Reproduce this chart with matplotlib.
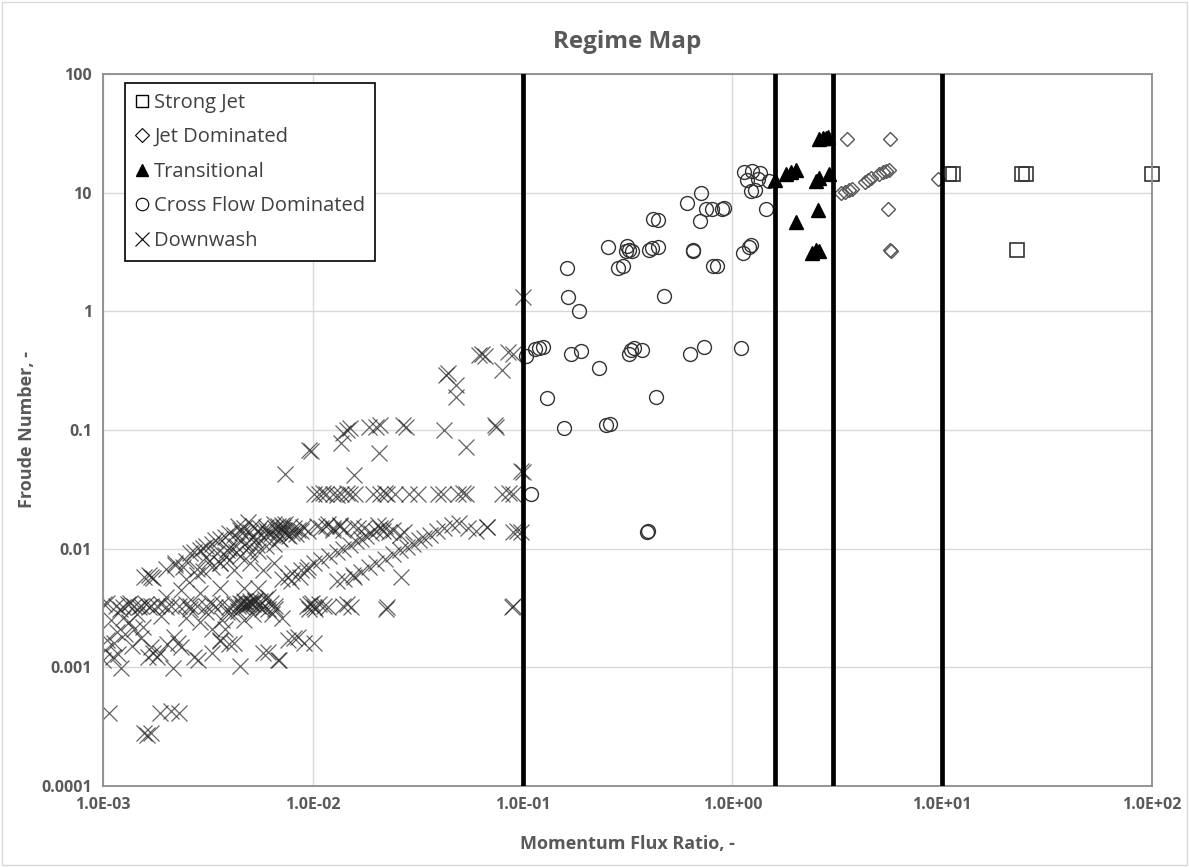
import numpy as np
import matplotlib
matplotlib.use("Agg")
import matplotlib.pyplot as plt
from matplotlib.lines import Line2D
from matplotlib.patches import Rectangle
from matplotlib.ticker import FixedLocator, FixedFormatter, NullLocator

plt.rcParams["font.family"] = ["Open Sans", "DejaVu Sans"]

# ---- data ----
strong_j = [10.8, 11.2, 24.0, 25.0, 100.0, 22.7]
strong_fr = [14.5, 14.5, 14.5, 14.5, 14.5, 3.3]

jetdom_j = [3.5, 5.66, 5.5, 5.66, 5.7, 9.6, 3.3, 3.45, 3.6, 3.7,
            4.3, 4.45, 4.6, 5.0, 5.2, 5.4, 5.6]
jetdom_fr = [28.4, 28.4, 7.3, 3.3, 3.25, 13.0, 10.0, 10.2, 10.5, 10.8,
             12.2, 12.8, 13.2, 14.3, 14.8, 15.2, 15.6]

trans_j = [2.6, 2.7, 2.8, 2.85, 1.8, 1.9, 2.0, 1.6, 2.5, 2.6, 2.9,
           2.55, 2.0, 2.4, 2.5, 2.6]
trans_fr = [28.5, 29.0, 28.7, 29.2, 14.5, 15.0, 15.5, 12.7, 12.5, 13.2, 14.3,
            7.1, 5.7, 3.1, 3.3, 3.2]

cross_j = [1.13, 1.245, 1.36, 1.18, 1.32, 1.22, 1.28, 1.5, 1.45,
           0.71, 0.61, 0.75, 0.80, 0.89, 0.91, 0.70, 0.42, 0.44,
           0.254, 0.316, 0.32, 0.334, 0.31, 0.40, 0.416, 0.44, 0.65, 0.65,
           0.81, 0.84, 1.12, 1.2, 1.22, 0.284, 0.30, 0.162, 0.164, 0.185, 0.47,
           0.104, 0.115, 0.12, 0.125, 0.17, 0.19, 0.232, 0.32, 0.33, 0.34, 0.37,
           0.63, 0.73, 1.10, 0.13, 0.43, 0.158, 0.25, 0.26, 0.11, 0.39, 0.395]
cross_fr = [14.9, 15.3, 14.6, 12.8, 13.0, 10.3, 10.5, 12.5, 7.3,
            10.0, 8.2, 7.3, 7.3, 7.3, 7.4, 5.8, 6.0, 5.9,
            3.5, 3.56, 3.3, 3.2, 3.2, 3.3, 3.4, 3.5, 3.3, 3.2,
            2.4, 2.4, 3.1, 3.5, 3.6, 2.3, 2.4, 2.3, 1.32, 1.0, 1.35,
            0.42, 0.48, 0.49, 0.50, 0.44, 0.46, 0.33, 0.44, 0.47, 0.49, 0.47,
            0.44, 0.50, 0.49, 0.186, 0.19, 0.104, 0.11, 0.113, 0.029, 0.0139, 0.014]

# downwash, grouped by visible rows / streaks
dw_row_j = [0.00101, 0.00105, 0.00115, 0.00125, 0.00132, 0.0014, 0.00152, 0.0016, 0.00165,
            0.0017, 0.0018, 0.0019, 0.002, 0.0021, 0.0023, 0.0025, 0.0028, 0.0031, 0.0034,
            0.0044, 0.0046, 0.0048, 0.005, 0.0052, 0.0055, 0.0058, 0.0061, 0.0094, 0.0097,
            0.0101, 0.0113, 0.014, 0.0146, 0.0152, 0.0223, 0.0225, 0.089, 0.09,
            0.0042, 0.0045, 0.0047, 0.0049, 0.0051, 0.0053, 0.0096, 0.0099, 0.0103,
            0.0012, 0.00135, 0.00148, 0.0026, 0.0037, 0.0040, 0.0066, 0.0107, 0.0118]
dw_row_fr = [0.0034, 0.0035, 0.0033, 0.0032, 0.0034, 0.0033, 0.0033, 0.0034, 0.0032,
             0.0033, 0.0033, 0.0034, 0.0032, 0.0033, 0.0033, 0.0034, 0.0033, 0.0033, 0.0032,
             0.0033, 0.0034, 0.0033, 0.0035, 0.0034, 0.0033, 0.0032, 0.0031, 0.0033, 0.0034,
             0.0032, 0.0033, 0.0033, 0.0034, 0.0032, 0.0031, 0.0032, 0.0032, 0.0033,
             0.0034, 0.0035, 0.0036, 0.0034, 0.0035, 0.0036, 0.0031, 0.0035, 0.0031,
             0.0031, 0.0035, 0.0032, 0.0031, 0.0034, 0.0032, 0.0033, 0.0034, 0.0032]

dw_low_j = [0.00109, 0.00117, 0.00105, 0.00141, 0.00152, 0.00169, 0.0018, 0.00187, 0.00202,
            0.00217, 0.00236, 0.0027, 0.0033, 0.0036, 0.0038, 0.004, 0.0045, 0.0058, 0.0068,
            0.0076, 0.0085, 0.0091, 0.001, 0.00111, 0.00122, 0.00163, 0.00174, 0.00215,
            0.00228, 0.00284, 0.0036, 0.0042, 0.0061, 0.0069, 0.0081, 0.0101,
            0.00107, 0.00187, 0.0021, 0.0023, 0.00157, 0.0017, 0.00162,
            0.0057, 0.0064, 0.0071,
            0.00102, 0.00113, 0.00125, 0.00133, 0.00145, 0.00118, 0.00128, 0.00138,
            0.00155, 0.0019, 0.0025, 0.0029, 0.0031, 0.0047, 0.0052, 0.0039]
dw_low_fr = [0.0025, 0.0020, 0.0017, 0.0021, 0.00175, 0.00149, 0.00123, 0.00133, 0.00158,
             0.0018, 0.00149, 0.00123, 0.00133, 0.0017, 0.0021, 0.00158, 0.00102, 0.00133, 0.00116,
             0.0017, 0.0018, 0.0016, 0.00116, 0.00123, 0.00099, 0.00123, 0.00133, 0.00099,
             0.00161, 0.00116, 0.00167, 0.0016, 0.00135, 0.00116, 0.00175, 0.0016,
             0.00041, 0.00041, 0.00043, 0.00041, 0.00028, 0.00028, 0.00027,
             0.0031, 0.0028, 0.0026,
             0.0014, 0.0016, 0.0026, 0.0024, 0.0028, 0.0013, 0.0019, 0.0015,
             0.0022, 0.0027, 0.0026, 0.0024, 0.0029, 0.0025, 0.0028, 0.0029]

dw_s1_j = [0.0027, 0.003, 0.0034, 0.004, 0.0044, 0.0049, 0.0045, 0.0047, 0.0052, 0.0056,
           0.006, 0.0065, 0.0068, 0.0071, 0.0074, 0.0078, 0.0081, 0.0085, 0.009, 0.0095,
           0.0105, 0.011, 0.0118, 0.0125, 0.0135, 0.014, 0.0155, 0.0165,
           0.0022, 0.0025, 0.0026, 0.0029, 0.0031, 0.0033, 0.0036, 0.0038, 0.0042, 0.0046,
           0.005, 0.0055, 0.006, 0.0066, 0.0072,
           0.0025, 0.0028, 0.003, 0.0033, 0.0036, 0.004, 0.0045, 0.005, 0.0055, 0.006,
           0.0065, 0.007, 0.0075, 0.008, 0.0088,
           0.0036, 0.004, 0.0045, 0.0052, 0.0061, 0.0071,
           0.0042, 0.005, 0.0058, 0.0065, 0.0036, 0.0047, 0.0055,
           0.002, 0.00236, 0.0029, 0.0033, 0.0026,
           0.00157, 0.00165, 0.00174, 0.002, 0.0022, 0.0024, 0.0017,
           0.0033, 0.0037, 0.0041, 0.0044, 0.0046, 0.0048, 0.005, 0.0053, 0.0056, 0.0059,
           0.0061, 0.0063, 0.0066,
           0.0031, 0.0035, 0.0039, 0.0043, 0.0048, 0.0053, 0.0058, 0.0063, 0.0068, 0.0073,
           0.0028, 0.0032, 0.0038, 0.0043, 0.0049, 0.0054, 0.0069, 0.0077, 0.0083]
dw_s1_fr = [0.0093, 0.0102, 0.0118, 0.0135, 0.0154, 0.0168, 0.0145, 0.015, 0.0155, 0.015,
            0.0152, 0.016, 0.0155, 0.0158, 0.016, 0.0155, 0.015, 0.0145, 0.0152, 0.014,
            0.0155, 0.015, 0.016, 0.0148, 0.0155, 0.0145, 0.0155, 0.015,
            0.0073, 0.0078, 0.0092, 0.0098, 0.0105, 0.011, 0.012, 0.0125, 0.013, 0.0135,
            0.0138, 0.014, 0.0145, 0.015, 0.0152,
            0.0055, 0.006, 0.0065, 0.007, 0.0075, 0.008, 0.0086, 0.009, 0.0095, 0.0105,
            0.011, 0.012, 0.013, 0.0135, 0.014,
            0.0075, 0.0102, 0.0118, 0.0126, 0.0135, 0.0145,
            0.0066, 0.0075, 0.0066, 0.0075, 0.0047, 0.0047, 0.0047,
            0.0039, 0.0045, 0.0042, 0.0035, 0.0033,
            0.0058, 0.006, 0.0057, 0.0068, 0.0075, 0.007, 0.0058,
            0.0021, 0.0025, 0.0028, 0.003, 0.0032, 0.0034, 0.0036, 0.0037, 0.0036, 0.0038,
            0.0039, 0.0035, 0.0031,
            0.0085, 0.0092, 0.0098, 0.0106, 0.0112, 0.0118, 0.0125, 0.0132, 0.0138, 0.0143,
            0.0068, 0.0078, 0.0088, 0.0094, 0.0102, 0.0108, 0.0122, 0.0128, 0.0133]

dw_s2_j = [0.0071, 0.0076, 0.008, 0.0088, 0.0095, 0.0101, 0.011, 0.012, 0.013, 0.014,
           0.015, 0.016, 0.017, 0.018, 0.019, 0.02, 0.021, 0.022, 0.0215, 0.023, 0.024,
           0.026, 0.0273, 0.0079, 0.0087, 0.0094, 0.0115, 0.0125, 0.0135, 0.0175, 0.0205]
dw_s2_fr = [0.0055, 0.0058, 0.0062, 0.0066, 0.007, 0.0075, 0.008, 0.0087, 0.0093, 0.01,
            0.0108, 0.0115, 0.012, 0.0128, 0.0135, 0.014, 0.0148, 0.0154, 0.0142, 0.0138, 0.0145,
            0.013, 0.0137, 0.0053, 0.0058, 0.0066, 0.0155, 0.0145, 0.0158, 0.0148, 0.0158]

dw_s3_j = [0.0141, 0.0155, 0.017, 0.0185, 0.02, 0.022, 0.024, 0.026, 0.028, 0.03, 0.032,
           0.034, 0.036, 0.039, 0.042, 0.046, 0.05, 0.055, 0.06, 0.068, 0.09, 0.094,
           0.013, 0.0157, 0.0263]
dw_s3_fr = [0.0055, 0.006, 0.0064, 0.007, 0.0075, 0.0082, 0.009, 0.0097, 0.0104, 0.011, 0.0118,
            0.0124, 0.013, 0.014, 0.015, 0.0158, 0.0165, 0.015, 0.014, 0.0153, 0.0137, 0.014,
            0.0053, 0.0058, 0.0058]

dw_mid_j = [0.0101, 0.0107, 0.0112, 0.0116, 0.0125, 0.013, 0.0137, 0.0146, 0.015, 0.0159,
            0.0193, 0.021, 0.022, 0.0227, 0.0247, 0.0286, 0.0316, 0.0394, 0.0417, 0.049,
            0.0536, 0.08, 0.086, 0.09, 0.052]
dw_mid_fr = [0.029, 0.029, 0.0295, 0.029, 0.029, 0.0285, 0.029, 0.0295, 0.029, 0.029,
             0.029, 0.029, 0.0295, 0.029, 0.029, 0.029, 0.029, 0.029, 0.029, 0.029,
             0.029, 0.029, 0.0295, 0.029, 0.0295]

dw_high_j = [0.1, 0.062, 0.064, 0.066, 0.085, 0.09, 0.08, 0.043, 0.044, 0.048, 0.048,
             0.0278, 0.0268, 0.02, 0.021, 0.0185, 0.0145, 0.015, 0.014, 0.042, 0.075, 0.074,
             0.054, 0.0206, 0.0098, 0.0096, 0.0136, 0.0074, 0.0157, 0.098, 0.1, 0.098, 0.068]
dw_high_fr = [1.33, 0.43, 0.44, 0.42, 0.45, 0.44, 0.32, 0.29, 0.30, 0.24, 0.19,
              0.107, 0.11, 0.107, 0.11, 0.105, 0.10, 0.104, 0.095, 0.10, 0.107, 0.11,
              0.072, 0.064, 0.066, 0.068, 0.078, 0.0424, 0.042, 0.045, 0.044, 0.0137, 0.0151]

regime_bounds = [0.1, 1.6, 3.0, 10.0]

y_ticks = [1e-4, 1e-3, 1e-2, 1e-1, 1, 10, 100]
y_labels = ["0.0001", "0.001", "0.01", "0.1", "1", "10", "100"]
x_ticks = [1e-3, 1e-2, 1e-1, 1, 10, 100]

GRAY = "#595959"

# ---- figure ----
fig = plt.figure(figsize=(11.89, 8.67), dpi=100)
ax = fig.add_axes([103 / 1189, 1 - 786 / 867, (1152 - 103) / 1189, (786 - 74) / 867])
fig.patches.append(Rectangle((0.002, 0.002), 0.996, 0.996, transform=fig.transFigure,
                             fill=False, edgecolor="#d9d9d9", lw=1))

ax.set_xscale("log")
ax.set_yscale("log")
ax.set_xlim(1e-3, 1e2)
ax.set_ylim(1e-4, 1e2)
ax.grid(True, which="major", color="#d9d9d9", lw=1)
ax.set_axisbelow(True)

dw_j = dw_row_j + dw_low_j + dw_s1_j + dw_s2_j + dw_s3_j + dw_mid_j + dw_high_j
dw_fr = dw_row_fr + dw_low_fr + dw_s1_fr + dw_s2_fr + dw_s3_fr + dw_mid_fr + dw_high_fr
ax.plot(dw_j, dw_fr, "x", color="#222222", alpha=0.7, ms=11.5, mew=0.9, ls="none")
ax.plot(cross_j, cross_fr, "o", mfc="none", mec="#333333", ms=10, mew=1.0, ls="none")
ax.plot(trans_j, trans_fr, "^", color="black", ms=10, ls="none")
ax.plot(jetdom_j, jetdom_fr, "D", mfc="none", mec="#555555", ms=7.5, mew=1.0, ls="none")
ax.plot(strong_j, strong_fr, "s", mfc="none", mec="#333333", ms=10, mew=1.2, ls="none",
        clip_on=False)

for xb in regime_bounds:
    ax.axvline(xb, color="black", lw=3.4, zorder=3)

ax.xaxis.set_major_locator(FixedLocator(x_ticks))
ax.xaxis.set_minor_locator(NullLocator())
ax.xaxis.set_major_formatter(FixedFormatter([f"{v:.1E}" for v in x_ticks]))
ax.yaxis.set_major_locator(FixedLocator(y_ticks))
ax.yaxis.set_minor_locator(NullLocator())
ax.yaxis.set_major_formatter(FixedFormatter(y_labels))
ax.tick_params(length=0, labelsize=11.5, labelcolor=GRAY, pad=8)
for lbl in ax.get_xticklabels() + ax.get_yticklabels():
    lbl.set_fontweight("bold")
for sp in ax.spines.values():
    sp.set_color("#8c8c8c")
    sp.set_linewidth(1.3)

ax.set_title("Regime Map", fontsize=17.5, fontweight="bold", color=GRAY, pad=19)
ax.set_xlabel("Momentum Flux Ratio, -", fontsize=13, fontweight="bold", color=GRAY, labelpad=16)
ax.set_ylabel("Froude Number, -", fontsize=13, fontweight="bold", color=GRAY, labelpad=4)

handles = [
    Line2D([], [], marker="s", ls="none", mfc="none", mec="black", ms=9, mew=1),
    Line2D([], [], marker="D", ls="none", mfc="none", mec="black", ms=7, mew=0.8),
    Line2D([], [], marker="^", ls="none", color="black", ms=9),
    Line2D([], [], marker="o", ls="none", mfc="none", mec="black", ms=9, mew=0.8),
    Line2D([], [], marker="x", ls="none", color="black", ms=10, mew=0.8),
]
names = ["Strong Jet", "Jet Dominated", "Transitional", "Cross Flow Dominated", "Downwash"]
leg = ax.legend(handles, names, loc="upper left", bbox_to_anchor=(0.021, 0.988),
                fontsize=14.5, frameon=True, fancybox=False, framealpha=1,
                edgecolor="black", handlelength=0.7, handletextpad=0.25,
                labelspacing=0.72, borderpad=0.5, borderaxespad=0)
leg.get_frame().set_linewidth(1.2)
leg.set_zorder(5)
for t in leg.get_texts():
    t.set_color("#404040")

fig.savefig("out.png", dpi=100)
